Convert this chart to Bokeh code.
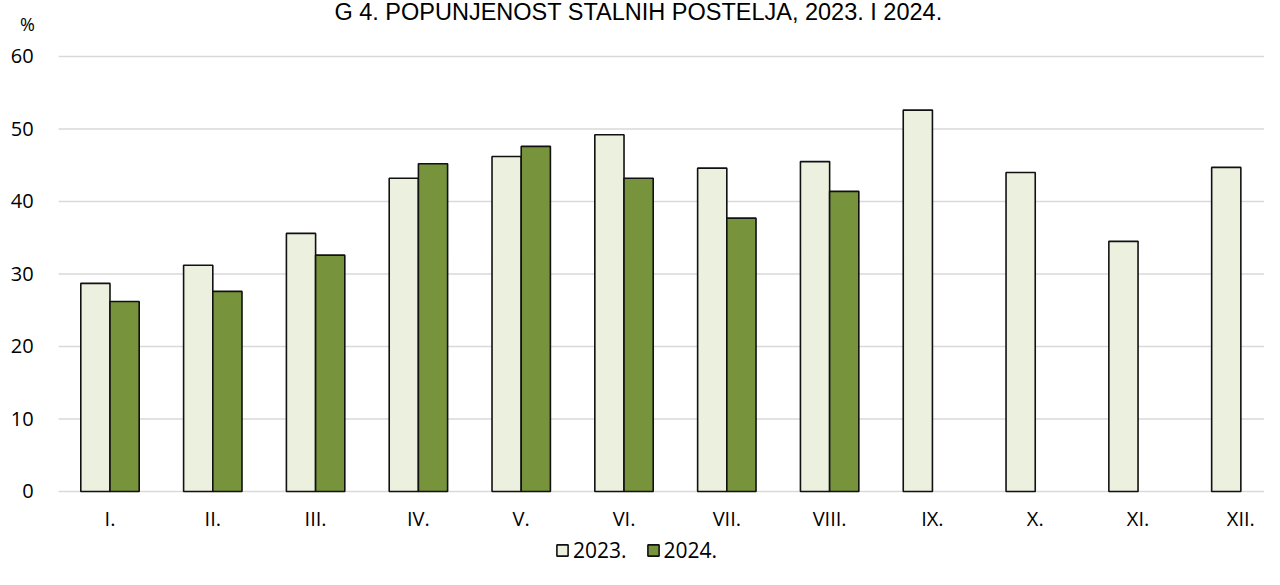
import numpy as np
from bokeh.plotting import figure
from bokeh.models import (ColumnDataSource, Range1d, FixedTicker, Label,
                          Legend, LegendItem)
from bokeh.embed import file_html
from bokeh.resources import INLINE

months = ["I.", "II.", "III.", "IV.", "V.", "VI.", "VII.", "VIII.",
          "IX.", "X.", "XI.", "XII."]
v2023 = [28.7, 31.2, 35.6, 43.2, 46.2, 49.2, 44.6, 45.5, 52.6, 44.0, 34.5, 44.7]
v2024 = [26.2, 27.6, 32.6, 45.2, 47.6, 43.2, 37.7, 41.4]
yticks = [0, 10, 20, 30, 40, 50, 60]
title_text = "G 4. POPUNJENOST STALNIH POSTELJA, 2023. I 2024."
unit_text = "%"
series_labels = ["2023.", "2024."]

C2023 = "#ebf1de"
C2024 = "#77933c"
FONT = "Open Sans"

W, H = 1264, 569
X0, X1 = -0.565, 11.73
Y0, Y1 = -10.76, 67.72

centers = np.arange(len(months)) + 0.5
bw = 0.284

src23 = ColumnDataSource(dict(x=centers - bw / 2, top=v2023))
src24 = ColumnDataSource(dict(x=centers[:len(v2024)] + bw / 2, top=v2024))

p = figure(width=W, height=H, output_backend="svg", toolbar_location=None,
           x_range=Range1d(X0, X1), y_range=Range1d(Y0, Y1),
           min_border=0)
p.outline_line_color = None
p.background_fill_color = "white"
p.xgrid.visible = False
p.ygrid.visible = False

# gridlines (from x=0 to the right edge)
p.segment(x0=[0] * len(yticks), x1=[X1] * len(yticks), y0=yticks, y1=yticks,
          line_color="#d9d9d9", line_width=1.5)

r1 = p.vbar(x="x", top="top", bottom=0, width=bw, source=src23,
            fill_color=C2023, line_color="#111111", line_width=1.6)
r2 = p.vbar(x="x", top="top", bottom=0, width=bw, source=src24,
            fill_color=C2024, line_color="#111111", line_width=1.6)

# axes fixed inside the frame
p.xaxis.fixed_location = 0
p.yaxis.fixed_location = 0
p.xaxis.ticker = FixedTicker(ticks=list(centers))
p.xaxis.major_label_overrides = {float(c): m for c, m in zip(centers, months)}
p.yaxis.ticker = FixedTicker(ticks=yticks)
for ax in (p.xaxis[0], p.yaxis[0]):
    ax.axis_line_color = None
    ax.major_tick_line_color = None
    ax.minor_tick_line_color = None
    ax.major_tick_out = 0
    ax.major_tick_in = 0
    ax.major_label_text_font = FONT
    ax.major_label_text_font_size = "20px"
    ax.major_label_text_color = "#000000"
p.xaxis.major_label_standoff = 14
p.yaxis.major_label_standoff = 25

# title and unit label
p.add_layout(Label(x=638, y=H - 11, x_units="screen", y_units="screen",
                   text=title_text, text_align="center",
                   text_baseline="alphabetic",
                   text_font="Liberation Sans", text_font_size="23.5px",
                   text_color="#000000"))
p.add_layout(Label(x=27, y=H - 23, x_units="screen", y_units="screen",
                   text=unit_text, text_align="center", text_baseline="middle",
                   text_font=FONT, text_font_size="18px", text_color="#000000"))

legend = Legend(items=[LegendItem(label=series_labels[0], renderers=[r1]),
                       LegendItem(label=series_labels[1], renderers=[r2])],
                location=(555, 5), orientation="horizontal",
                padding=0, margin=0, spacing=19, glyph_width=14,
                glyph_height=14, label_standoff=4, label_height=20,
                label_text_font=FONT, label_text_font_size="21px",
                label_text_color="#000000",
                border_line_color=None, background_fill_alpha=0)
p.add_layout(legend)

open("out.html", "w").write(file_html(p, INLINE))
